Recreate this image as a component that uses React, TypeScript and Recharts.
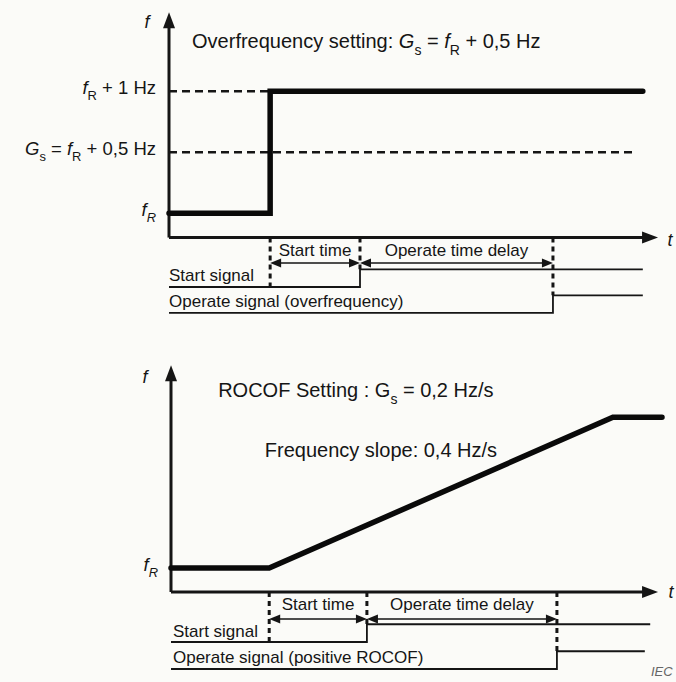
import React from "react"
import { LineChart, Line, XAxis, YAxis, ReferenceLine, ReferenceDot } from "recharts"

type Seg = [string, string?]

// overfrequency panel: t in s, f - fR in Hz
const ofTime = [0, 2.06, 2.06, 9.65]
const ofFreq = [0, 0, 1, 1]
const ofSetting = 0.5 // Gs - fR
const ofEvents = [2.06, 3.89, 7.82] // frequency step, start signal, operate signal
const ofSignalEnd = [9.65, 9.65]
const ofTicks = [0, 0.5, 1]
const ofTickLabels: Seg[][] = [
  [["f", "i"], ["R", "isub"]],
  [["G", "i"], ["s", "sub"], [" = "], ["f", "i"], ["R", "sub"], [" + 0,5 Hz"]],
  [["f", "i"], ["R", "sub"], [" + 1 Hz"]],
]
const ofTitle: Seg[] = [["Overfrequency setting: "], ["G", "i"], ["s", "sub"], [" = "], ["f", "i"], ["R", "sub"], [" + 0,5 Hz"]]
const ofSignalNames = ["Start signal", "Operate signal (overfrequency)"]

// ROCOF panel: frequency ramps at 0,4 Hz/s from t = 2 s to t = 9 s
const rcTime = [0, 2, 9, 10]
const rcFreq = [0, 0, 2.8, 2.8]
const rcEvents = [2, 3.99, 7.86]
const rcSignalEnd = [9.76, 9.65]
const rcTicks = [0]
const rcTickLabels: Seg[][] = [[["f", "i"], ["R", "isub"]]]
const rcTitle: Seg[] = [["ROCOF Setting : G"], ["s", "sub"], [" = 0,2 Hz/s"]]
const rcNote: Seg[] = [["Frequency slope: 0,4 Hz/s"]]
const rcSignalNames = ["Start signal", "Operate signal (positive ROCOF)"]

const timeNames = ["Start time", "Operate time delay"]
const signalState = [0, 0, 1, 1]

const FONT = "'Liberation Sans', Arial, Helvetica, sans-serif"
const INK = "#151515"

function Rich({ x, y, segs, size, anchor = "start" }: { x: number; y: number; segs: Seg[]; size: number; anchor?: string }) {
  let low = false
  const shift = size * 0.33
  return (
    <text x={x} y={y} fontSize={size} fontFamily={FONT} fill={INK} textAnchor={anchor as any} style={{ whiteSpace: "pre" }}>
      {segs.map(([s, st], k) => {
        const sub = st === "sub" || st === "isub"
        const dy = sub && !low ? shift : !sub && low ? -shift : 0
        low = sub
        return (
          <tspan key={k} dy={dy} fontSize={sub ? size * 0.7 : size} fontStyle={st === "i" || st === "isub" ? "italic" : "normal"}>
            {s}
          </tspan>
        )
      })}
    </text>
  )
}

// line with filled arrow heads, used for the axes and the time intervals
const arrow = (head: number, half: number, both: boolean, width: number) => (p: any) => {
  const { x1, y1, x2, y2 } = p
  const len = Math.hypot(x2 - x1, y2 - y1) || 1
  const ux = (x2 - x1) / len
  const uy = (y2 - y1) / len
  const tri = (tx: number, ty: number, sx: number, sy: number) => {
    const bx = tx - sx * head
    const by = ty - sy * head
    return `${tx},${ty} ${bx - sy * half},${by + sx * half} ${bx + sy * half},${by - sx * half}`
  }
  return (
    <g>
      <line
        x1={both ? x1 + ux * head * 0.6 : x1}
        y1={both ? y1 + uy * head * 0.6 : y1}
        x2={x2 - ux * head * 0.6}
        y2={y2 - uy * head * 0.6}
        stroke={INK}
        strokeWidth={width}
      />
      <polygon points={tri(x2, y2, ux, uy)} fill={INK} />
      {both && <polygon points={tri(x1, y1, -ux, -uy)} fill={INK} />}
    </g>
  )
}

const label = (segs: Seg[], size: number, anchor = "start", dx = 0, dy = 0) => (p: any) => (
  <Rich x={p.cx + dx} y={p.cy + dy} segs={segs} size={size} anchor={anchor} />
)

const pts = (xs: number[], ys: number[], base = 0, h = 1) => xs.map((t, i) => ({ t, y: base + ys[i] * h }))

type Cfg = {
  top: number
  height: number
  margin: { top: number; right: number; bottom: number; left: number }
  yWidth: number
  yDomain: [number, number]
  time: number[]
  freq: number[]
  events: number[]
  signalEnd: number[]
  ticks: number[]
  tickLabels: Seg[][]
  signalNames: string[]
  axis: number
  axisTop: number
  axisEnd: number
  arrowAt: number
  timeTextAt: number
  starts: number
  operates: number
  sigH: number
  startText: number
  operateText: number
  textX: number
  fOffset: [number, number]
  tOffset: [number, number]
  children?: React.ReactNode
}

function Panel(c: Cfg) {
  const [e0, e1, e2] = c.events
  const startSig = pts([0, e1, e1, c.signalEnd[0]], signalState, c.starts, c.sigH)
  const opSig = pts([0, e2, e2, c.signalEnd[1]], signalState, c.operates, c.sigH)
  const dotted = { stroke: INK, strokeWidth: 3, strokeDasharray: "5 4", ifOverflow: "visible" as const }
  return (
    <div style={{ position: "absolute", left: 0, top: c.top }}>
      <LineChart width={676} height={c.height} margin={c.margin}>
        <XAxis dataKey="t" type="number" domain={[0, 10]} hide />
        <YAxis
          type="number"
          domain={c.yDomain}
          width={c.yWidth}
          ticks={c.ticks}
          interval={0}
          axisLine={false}
          tickLine={false}
          tickMargin={7}
          tick={(p: any) => <Rich x={p.x} y={p.y + 3} segs={c.tickLabels[p.index]} size={18.5} anchor="end" />}
        />
        {/* axes */}
        <ReferenceLine segment={[{ x: 0, y: c.axis }, { x: 0, y: c.axisTop }]} shape={arrow(16, 6, false, 3)} ifOverflow="visible" />
        <ReferenceLine segment={[{ x: 0, y: c.axis }, { x: c.axisEnd, y: c.axis }]} shape={arrow(16, 6, false, 3)} ifOverflow="visible" />
        <ReferenceDot x={0} y={c.axisTop} r={0} ifOverflow="visible" shape={label([["f", "i"]], 18, "middle", c.fOffset[0], c.fOffset[1])} />
        <ReferenceDot x={c.axisEnd} y={c.axis} r={0} ifOverflow="visible" shape={label([["t", "i"]], 18, "middle", c.tOffset[0], c.tOffset[1])} />
        {/* event markers */}
        <ReferenceLine segment={[{ x: e0, y: c.axis }, { x: e0, y: c.starts }]} {...dotted} />
        <ReferenceLine segment={[{ x: e1, y: c.axis }, { x: e1, y: c.starts + c.sigH }]} {...dotted} />
        <ReferenceLine segment={[{ x: e2, y: c.axis }, { x: e2, y: c.operates + c.sigH }]} {...dotted} />
        <ReferenceLine segment={[{ x: e0, y: c.arrowAt }, { x: e1, y: c.arrowAt }]} shape={arrow(11, 4.5, true, 1.6)} ifOverflow="visible" />
        <ReferenceLine segment={[{ x: e1, y: c.arrowAt }, { x: e2, y: c.arrowAt }]} shape={arrow(11, 4.5, true, 1.6)} ifOverflow="visible" />
        <ReferenceDot x={(e0 + e1) / 2} y={c.timeTextAt} r={0} ifOverflow="visible" shape={label([[timeNames[0]]], 17, "middle")} />
        <ReferenceDot x={(e1 + e2) / 2} y={c.timeTextAt} r={0} ifOverflow="visible" shape={label([[timeNames[1]]], 17, "middle")} />
        <ReferenceDot x={c.textX} y={c.startText} r={0} ifOverflow="visible" shape={label([[c.signalNames[0]]], 17)} />
        <ReferenceDot x={c.textX} y={c.operateText} r={0} ifOverflow="visible" shape={label([[c.signalNames[1]]], 17)} />
        {c.children}
        <Line data={startSig} dataKey="y" type="linear" stroke={INK} strokeWidth={1.8} dot={false} activeDot={false} isAnimationActive={false} />
        <Line data={opSig} dataKey="y" type="linear" stroke={INK} strokeWidth={1.8} dot={false} activeDot={false} isAnimationActive={false} />
        <Line
          data={pts(c.time, c.freq)}
          dataKey="y"
          type="linear"
          stroke="#0a0a0a"
          strokeWidth={5.5}
          strokeLinecap="round"
          dot={false}
          activeDot={false}
          isAnimationActive={false}
        />
      </LineChart>
    </div>
  )
}

export default function App() {
  const dashed = { stroke: INK, strokeWidth: 2.5, strokeDasharray: "8 5", ifOverflow: "visible" as const }
  return (
    <div style={{ position: "fixed", left: 0, top: 0, width: 676, height: 682, overflow: "hidden", background: "#fbfbf8" }}>
      <Panel
        top={0}
        height={340}
        margin={{ top: 0, right: 16, bottom: 5, left: 0 }}
        yWidth={169}
        yDomain={[-1, 1.75]}
        time={ofTime}
        freq={ofFreq}
        events={ofEvents}
        signalEnd={ofSignalEnd}
        ticks={ofTicks}
        tickLabels={ofTickLabels}
        signalNames={ofSignalNames}
        axis={-0.2}
        axisTop={1.65}
        axisEnd={9.96}
        arrowAt={-0.409}
        timeTextAt={-0.351}
        starts={-0.606}
        operates={-0.819}
        sigH={0.145}
        startText={-0.557}
        operateText={-0.77}
        textX={0}
        fOffset={[-22, 16]}
        tOffset={[12, 8]}
      >
        <ReferenceLine segment={[{ x: 0, y: ofFreq[2] }, { x: ofEvents[0], y: ofFreq[2] }]} {...dashed} />
        <ReferenceLine segment={[{ x: 0, y: ofSetting }, { x: 9.43, y: ofSetting }]} {...dashed} />
        <ReferenceDot x={0.47} y={1.356} r={0} ifOverflow="visible" shape={label(ofTitle, 20)} />
      </Panel>
      <Panel
        top={340}
        height={342}
        margin={{ top: 2, right: 14, bottom: 1, left: 0 }}
        yWidth={171}
        yDomain={[-2.1, 4.2]}
        time={rcTime}
        freq={rcFreq}
        events={rcEvents}
        signalEnd={rcSignalEnd}
        ticks={rcTicks}
        tickLabels={rcTickLabels}
        signalNames={rcSignalNames}
        axis={-0.446}
        axisTop={3.77}
        axisEnd={9.92}
        arrowAt={-0.948}
        timeTextAt={-0.78}
        starts={-1.375}
        operates={-1.877}
        sigH={0.33}
        startText={-1.282}
        operateText={-1.765}
        textX={0.04}
        fOffset={[-26, 18]}
        tOffset={[13, 6]}
      >
        <ReferenceDot x={0.96} y={3.178} r={0} ifOverflow="visible" shape={label(rcTitle, 20)} />
        <ReferenceDot x={1.91} y={2.063} r={0} ifOverflow="visible" shape={label(rcNote, 20)} />
      </Panel>
      <span style={{ position: "absolute", left: 651, top: 664, font: "italic 13px " + FONT, color: "#666" }}>IEC</span>
    </div>
  )
}
